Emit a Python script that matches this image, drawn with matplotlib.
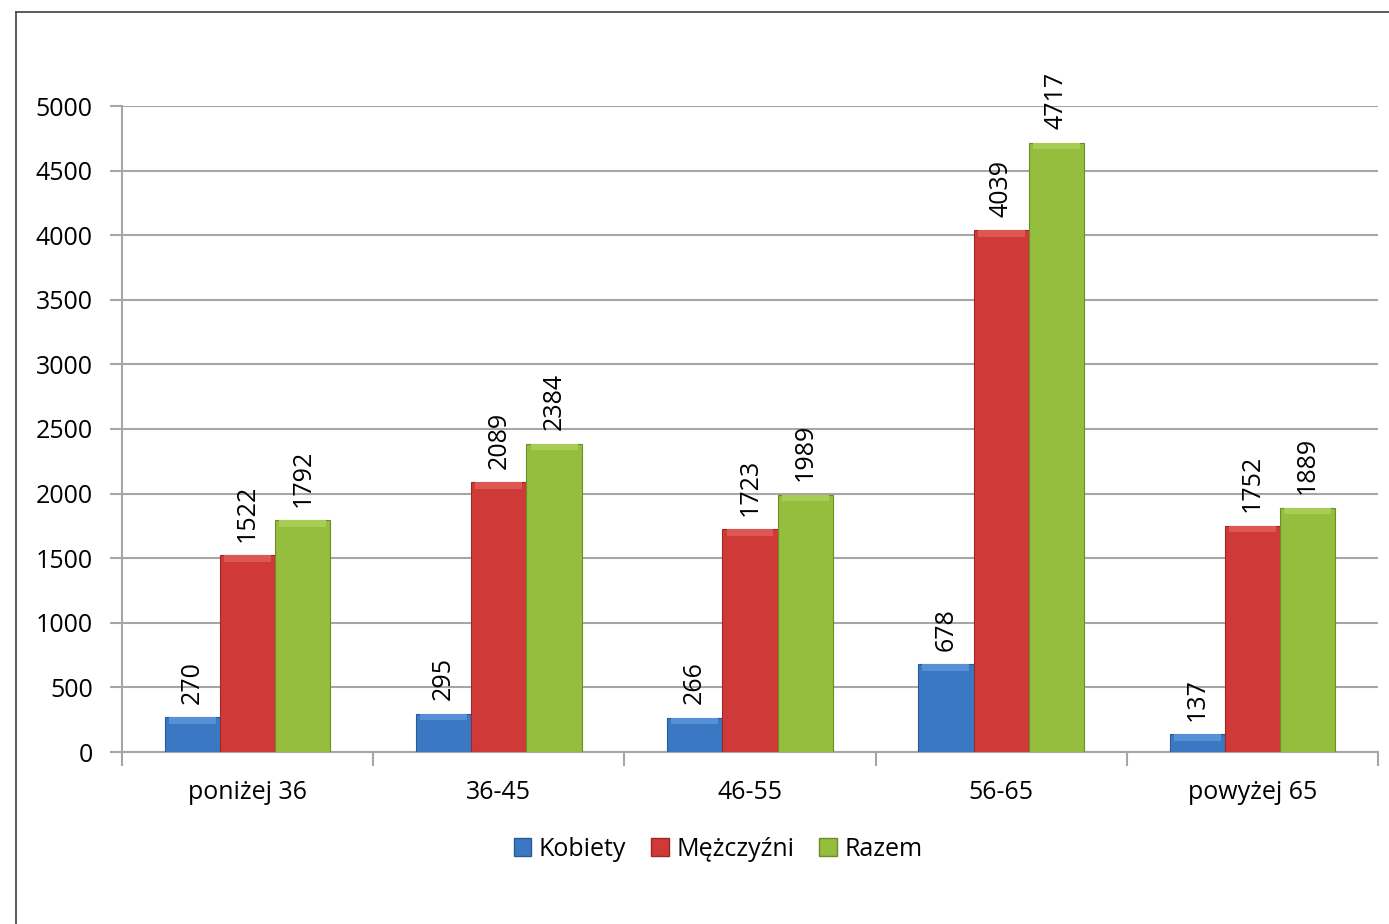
import numpy as np
import matplotlib.pyplot as plt
from matplotlib.lines import Line2D
from matplotlib.patches import Patch

plt.rcParams['font.family'] = ['Open Sans', 'DejaVu Sans']

# Data -------------------------------------------------
categories = ['poniżej 36', '36-45', '46-55', '56-65', 'powyżej 65']
kobiety = [270, 295, 266, 678, 137]
mezczyzni = [1522, 2089, 1723, 4039, 1752]
razem = [1792, 2384, 1989, 4717, 1889]

series_names = ['Kobiety', 'Mężczyźni', 'Razem']
series_values = [kobiety, mezczyzni, razem]
colors = ['#3B78C4', '#CF3A38', '#95BD3E']
edges = ['#2A5A96', '#9C2826', '#6B8C26']
tops = ['#5690D6', '#DD5855', '#A9CC55']

# Plot -------------------------------------------------
fig = plt.figure(figsize=(13.89, 9.24), dpi=100)
ax = fig.add_axes([122 / 1389, 1 - 752 / 924, (1378 - 122) / 1389, (752 - 106) / 924])

x = np.arange(len(categories))
w = 0.22
bevel = 50  # height of the lighter strip on top of each bar (data units)
for i, (name, vals) in enumerate(zip(series_names, series_values)):
    pos = x + (i - 1) * w
    ax.bar(pos, vals, width=w, color=colors[i], edgecolor=edges[i], linewidth=0.8,
           label=name, zorder=3)
    # bevel look on top
    vals_arr = np.array(vals)
    ax.bar(pos, np.full(len(vals), bevel), bottom=vals_arr - bevel, width=w * 0.85,
           color=tops[i], linewidth=0, zorder=4)
    for p, v in zip(pos, vals):
        ax.text(p, v + 105, str(v), rotation=90, ha='center', va='bottom',
                fontsize=18, color='black')

ax.set_ylim(0, 5000)
ax.set_xlim(-0.5, len(categories) - 0.5)
ax.set_yticks(np.arange(0, 5001, 500))
ax.yaxis.grid(True, color='#A6A6A6', linewidth=1.5, zorder=0)
ax.set_axisbelow(True)

ax.set_xticks(x)
ax.set_xticklabels(categories, fontsize=18)
ax.set_xticks(np.arange(-0.5, len(categories), 1), minor=True)
ax.tick_params(axis='x', which='major', length=0, pad=20)
ax.tick_params(axis='x', which='minor', length=10, color='#A6A6A6', width=1.5)
ax.tick_params(axis='y', length=9, color='#A6A6A6', width=1.5, labelsize=18, pad=12)

for s in ['top', 'right']:
    ax.spines[s].set_visible(False)
ax.spines['left'].set_color('#A6A6A6')
ax.spines['bottom'].set_color('#A6A6A6')
ax.spines['left'].set_linewidth(1.5)
ax.spines['bottom'].set_linewidth(1.5)

handles = [Patch(facecolor=c, edgecolor=e, label=n) for n, c, e in zip(series_names, colors, edges)]
fig.legend(handles=handles, loc='center', bbox_to_anchor=(718 / 1389, 1 - 849 / 924),
           ncol=3, frameon=False, fontsize=18, handlelength=0.7, handleheight=0.7,
           handletextpad=0.3, columnspacing=1.0)

# outer chart frame
fig.add_artist(Line2D([16 / 1389, 16 / 1389], [0, 1 - 12 / 924], color='#404040', linewidth=1.2))
fig.add_artist(Line2D([16 / 1389, 1], [1 - 12 / 924, 1 - 12 / 924], color='#404040', linewidth=1.2))

fig.savefig('out.png', dpi=100)
